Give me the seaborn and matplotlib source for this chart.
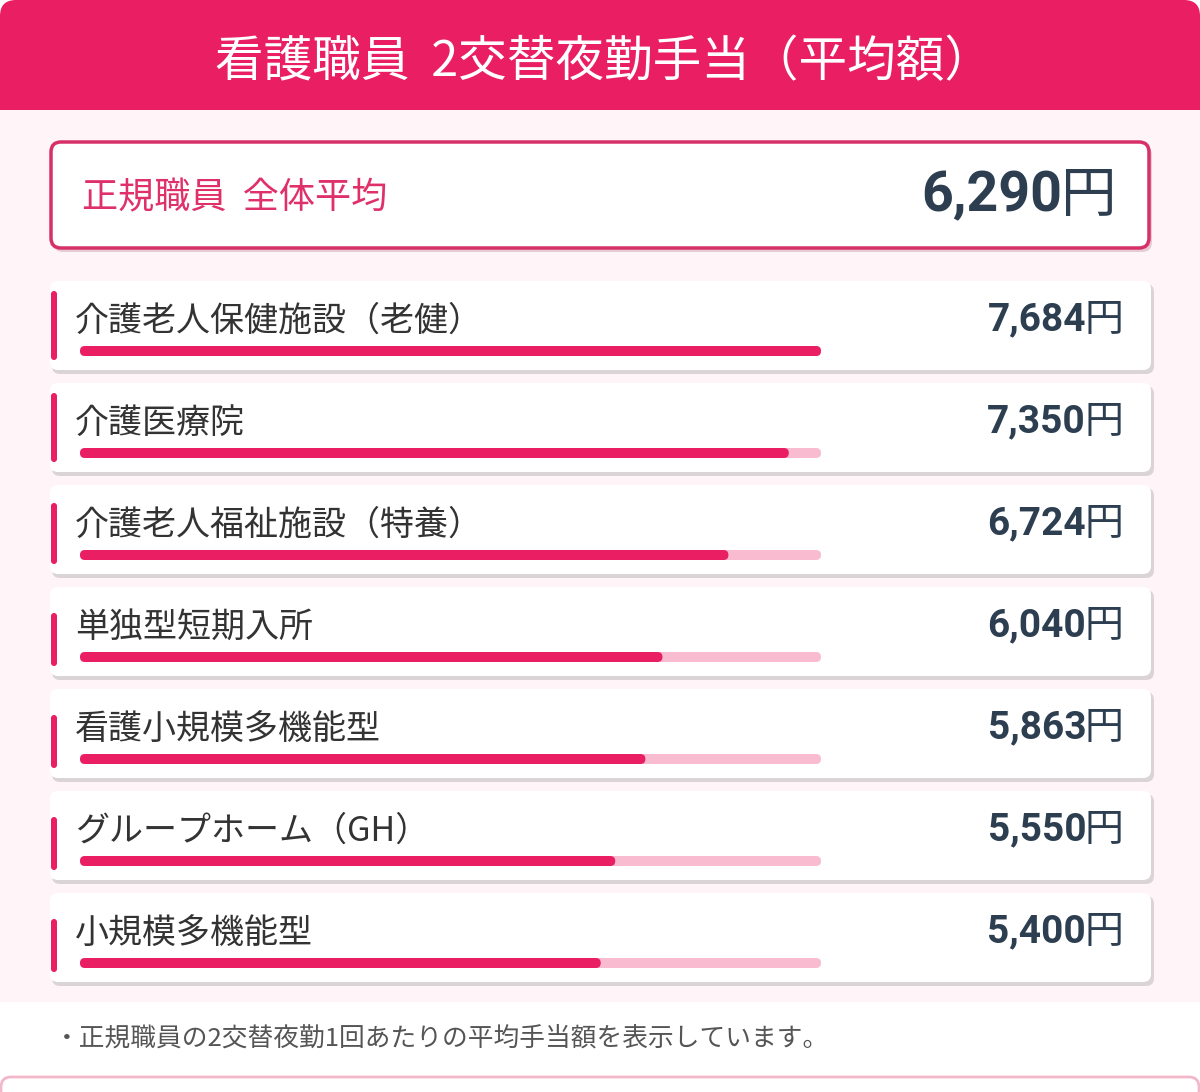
import matplotlib
matplotlib.use("Agg")
import matplotlib.pyplot as plt
import seaborn as sns
from matplotlib.patches import FancyBboxPatch, Rectangle

# data
title = "看護職員  2交替夜勤手当（平均額）"
overall_label = "正規職員  全体平均"
overall_value = 6290
facilities = [
    "介護老人保健施設（老健）",
    "介護医療院",
    "介護老人福祉施設（特養）",
    "単独型短期入所",
    "看護小規模多機能型",
    "グループホーム（GH）",
    "小規模多機能型",
]
allowance = [7684, 7350, 6724, 6040, 5863, 5550, 5400]
scale_max = max(allowance)
footnote = "・正規職員の2交替夜勤1回あたりの平均手当額を表示しています。"

# colours
PINK = "#E91E63"
TRACK = "#F8BBD0"
PANEL = "#FFF4F8"
NAVY = "#2C3E50"
TEXT = "#333333"

sns.set_style("white")
plt.rcParams["font.family"] = ["Noto Sans CJK JP", "DejaVu Sans"]

W, H = 1200, 1092
fig = plt.figure(figsize=(W / 100, H / 100), dpi=100)
fig.patch.set_facecolor("white")

# background axes in pixel units
ax = fig.add_axes([0, 0, 1, 1])
ax.set_xlim(0, W)
ax.set_ylim(H, 0)
ax.axis("off")

# header band + panel
ax.add_patch(FancyBboxPatch((0, 0), W, 110, boxstyle="round,pad=0,rounding_size=16",
                            fc=PINK, ec="none", zorder=1))
ax.add_patch(Rectangle((0, 60), W, 50, fc=PINK, ec="none", zorder=1))
ax.add_patch(Rectangle((0, 110), W, 892, fc=PANEL, ec="none", zorder=1))
ax.text(W / 2 + 4, 62, title, color="white", fontsize=35, ha="center", va="center", zorder=3)

renderer = fig.canvas.get_renderer()


def money(x_right, y, value, size):
    # bold number followed by a regular 円
    yen = ax.text(x_right, y, "円", fontsize=size, color=NAVY, ha="right", va="center", zorder=6)
    w = yen.get_window_extent(renderer).width
    ax.text(x_right - w + 2, y, f"{value:,}", fontsize=size, color=NAVY, ha="right", va="center",
            family=["Roboto", "DejaVu Sans"], fontweight="bold", zorder=6)


# summary box
ax.add_patch(FancyBboxPatch((53, 145), 1099, 107, boxstyle="round,pad=0,rounding_size=10",
                            fc="#E6CBD3", ec="none", zorder=2))
ax.add_patch(FancyBboxPatch((51, 142), 1098, 106, boxstyle="round,pad=0,rounding_size=10",
                            fc="white", ec="#D63068", lw=2.5, zorder=3))
ax.text(82, 198, overall_label, color="#E0306A", fontsize=26, ha="left", va="center", zorder=4)
money(1116, 196, overall_value, 40)

# facility cards
accent_top = [10, 10, 18, 26, 26, 26, 26]
for i, (name, val) in enumerate(zip(facilities, allowance)):
    top = 281 + i * 102
    ax.add_patch(FancyBboxPatch((52, top + 3), 1102, 90, boxstyle="round,pad=0,rounding_size=8",
                                fc="#DAD4D6", ec="none", zorder=2))
    ax.add_patch(FancyBboxPatch((50, top), 1101, 89, boxstyle="round,pad=0,rounding_size=8",
                                fc="white", ec="none", zorder=3))
    ax.add_patch(FancyBboxPatch((51, top + accent_top[i]), 6, 79 - accent_top[i],
                                boxstyle="round,pad=0,rounding_size=3",
                                fc=PINK, ec="none", zorder=4))
    ax.text(75, top + 40, name, color=TEXT, fontsize=24.5, ha="left", va="center", zorder=5)
    money(1123, top + 39, val, 28)

# bars: own axes, value scale 0..max across the track
bar_top, bar_bottom = 300, 1014
ax_bar = fig.add_axes([80 / W, 1 - bar_bottom / H, 741 / W, (bar_bottom - bar_top) / H])
ax_bar.patch.set_alpha(0)
sns.barplot(x=[scale_max] * len(facilities), y=facilities, orient="h", color=TRACK,
            width=10 / 102, errorbar=None, ax=ax_bar, saturation=1)
sns.barplot(x=allowance, y=facilities, orient="h", color=PINK,
            width=10 / 102, errorbar=None, ax=ax_bar, saturation=1)
ax_bar.set_xlim(0, scale_max)
ax_bar.set_ylim(len(facilities) - 0.5, -0.5)
ax_bar.axis("off")

# swap the square bars for rounded ones in pixel space
to_px = ax_bar.transData + ax.transData.inverted()
for k, p in enumerate(list(ax_bar.patches)):
    (x0, y0), (x1, y1) = to_px.transform([(p.get_x(), p.get_y()),
                                          (p.get_x() + p.get_width(), p.get_y() + p.get_height())])
    ax.add_patch(FancyBboxPatch((min(x0, x1), min(y0, y1)), abs(x1 - x0), abs(y1 - y0),
                                boxstyle="round,pad=0,rounding_size=5",
                                fc=p.get_facecolor(), ec="none", zorder=6 + k // len(facilities)))
    p.remove()

# footnote and bottom frame
ax.text(54, 1039, footnote, color="#555555", fontsize=18.5, ha="left", va="center", zorder=3)
ax.add_patch(FancyBboxPatch((1, 1077), W - 2, 30, boxstyle="round,pad=0,rounding_size=10",
                            fc="white", ec="#F2B8C9", lw=2, zorder=3))

fig.savefig("out.png", dpi=100, facecolor="white")
